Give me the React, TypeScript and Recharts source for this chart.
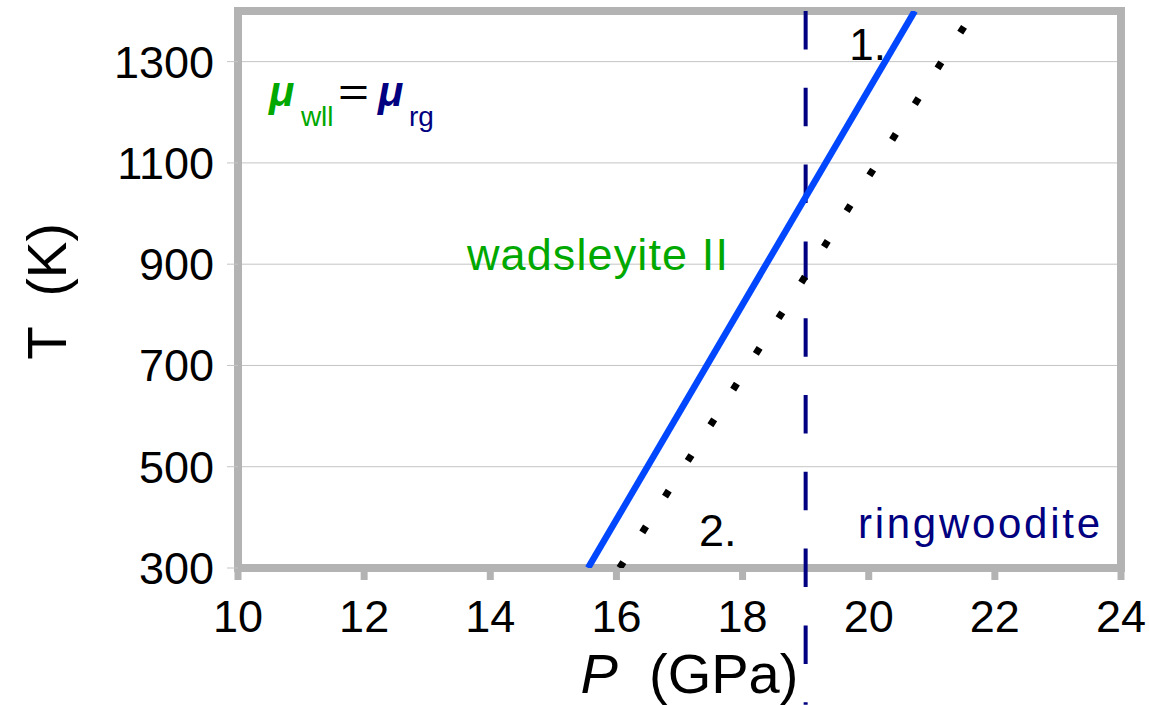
import React from "react";
import {
  LineChart,
  Line,
  XAxis,
  YAxis,
  CartesianGrid,
  ReferenceArea,
  ReferenceLine,
  ReferenceDot,
} from "recharts";

const FONT = '"Liberation Sans", Arial, Helvetica, sans-serif';
const GREEN = "#00a800";
const NAVY = "#000080";
const FRAME = "#b3b3b3";

// axis ticks
const P_TICKS = [10, 12, 14, 16, 18, 20, 22, 24];
const T_TICKS = [300, 500, 700, 900, 1100, 1300];

// phase boundaries (P in GPa, T in K)
const boundary1 = [
  { P: 15.55, T: 300 },
  { P: 20.73, T: 1400 },
];
const boundary2 = [
  { P: 16.05, T: 300 },
  { P: 21.67, T: 1400 },
];
const transitionP = 19;

// text notes placed in data space
const notes = [
  { id: "wad", P: 13.63, T: 889, text: "wadsleyite II", color: GREEN, size: 45, len: 261 },
  { id: "ring", P: 19.83, T: 359, text: "ringwoodite", color: NAVY, size: 42, len: 242 },
  { id: "one", P: 19.69, T: 1303, text: "1.", color: "#000", size: 44, len: 0 },
  { id: "two", P: 17.31, T: 343, text: "2.", color: "#000", size: 45, len: 0 },
];
const muAnchor = { P: 10.49, T: 1212 };

const MuEquation = ({ cx, cy }: any) => (
  <g fontFamily={FONT}>
    <text x={cx} y={cy} fill={GREEN} fontSize={42} fontWeight="bold" fontStyle="italic">μ</text>
    <text x={cx + 32} y={cy + 20} fill={GREEN} fontSize={28}>wll</text>
    <text x={cx + 69} y={cy} fill="#000" fontSize={40} textLength={31} lengthAdjust="spacingAndGlyphs">=</text>
    <text x={cx + 109} y={cy} fill={NAVY} fontSize={42} fontWeight="bold" fontStyle="italic">μ</text>
    <text x={cx + 140} y={cy + 20} fill={NAVY} fontSize={28}>rg</text>
  </g>
);

const XTitle = ({ viewBox }: any) => (
  <text
    x={viewBox.x + viewBox.width / 2 + 10}
    y={viewBox.y + 125}
    textAnchor="middle"
    fontFamily={FONT}
    fontSize={56}
    fill="#000"
    style={{ whiteSpace: "pre" }}
  >
    <tspan fontStyle="italic">P</tspan>
    <tspan>{"  (GPa)"}</tspan>
  </text>
);

const YTitle = ({ viewBox }: any) => {
  const x = viewBox.x + 66;
  const y = viewBox.y + viewBox.height / 2 + 2;
  return (
    <text
      x={x}
      y={y}
      transform={`rotate(-90 ${x} ${y})`}
      textAnchor="middle"
      fontFamily={FONT}
      fontSize={55}
      fill="#000"
      style={{ whiteSpace: "pre" }}
    >
      {"T  (K)"}
    </text>
  );
};

export default function App() {
  return (
    <div style={{ position: "absolute", left: 0, top: 0, width: 1149, height: 705, background: "#fff" }}>
      <LineChart width={1149} height={705} margin={{ top: 11, right: 28, bottom: 0, left: 0 }}>
        <CartesianGrid vertical={false} stroke="#c4c4c4" strokeWidth={1} />
        <XAxis
          type="number"
          dataKey="P"
          domain={[10, 24]}
          ticks={P_TICKS}
          allowDataOverflow
          height={137}
          axisLine={false}
          tickLine={{ stroke: FRAME, strokeWidth: 7 }}
          tickSize={12}
          tickMargin={20}
          tick={{ fill: "#000", fontSize: 45, fontFamily: FONT }}
          label={{ content: <XTitle /> }}
        />
        <YAxis
          type="number"
          domain={[300, 1400]}
          ticks={T_TICKS}
          allowDataOverflow
          width={238}
          axisLine={false}
          tickLine={{ stroke: "#c4c4c4", strokeWidth: 1 }}
          tickSize={11}
          tickMargin={13}
          tick={{ fill: "#000", fontSize: 45, fontFamily: FONT }}
          label={{ content: <YTitle /> }}
        />
        <ReferenceArea
          x1={10}
          x2={24}
          y1={300}
          y2={1400}
          ifOverflow="visible"
          fill="none"
          stroke={FRAME}
          strokeWidth={8}
        />
        <ReferenceLine
          segment={[
            { x: transitionP, y: 1400 },
            { x: transitionP, y: 30 },
          ]}
          ifOverflow="visible"
          stroke={NAVY}
          strokeWidth={4}
          strokeDasharray="38.5 38.3"
        />
        <Line
          data={boundary2}
          dataKey="T"
          stroke="#000"
          strokeWidth={7}
          strokeDasharray="7 35.3"
          strokeLinecap="butt"
          dot={false}
          activeDot={false}
          isAnimationActive={false}
        />
        <Line
          data={boundary1}
          dataKey="T"
          stroke="#0047ff"
          strokeWidth={6.5}
          dot={false}
          activeDot={false}
          isAnimationActive={false}
        />
        {notes.map((n) => (
          <ReferenceDot
            key={n.id}
            x={n.P}
            y={n.T}
            r={0}
            ifOverflow="visible"
            shape={(p: any) => (
              <text
                x={p.cx}
                y={p.cy}
                fill={n.color}
                fontSize={n.size}
                fontFamily={FONT}
                {...(n.len ? { textLength: n.len, lengthAdjust: "spacing" } : {})}
              >
                {n.text}
              </text>
            )}
          />
        ))}
        <ReferenceDot
          x={muAnchor.P}
          y={muAnchor.T}
          r={0}
          ifOverflow="visible"
          shape={(p: any) => <MuEquation cx={p.cx} cy={p.cy} />}
        />
      </LineChart>
    </div>
  );
}
